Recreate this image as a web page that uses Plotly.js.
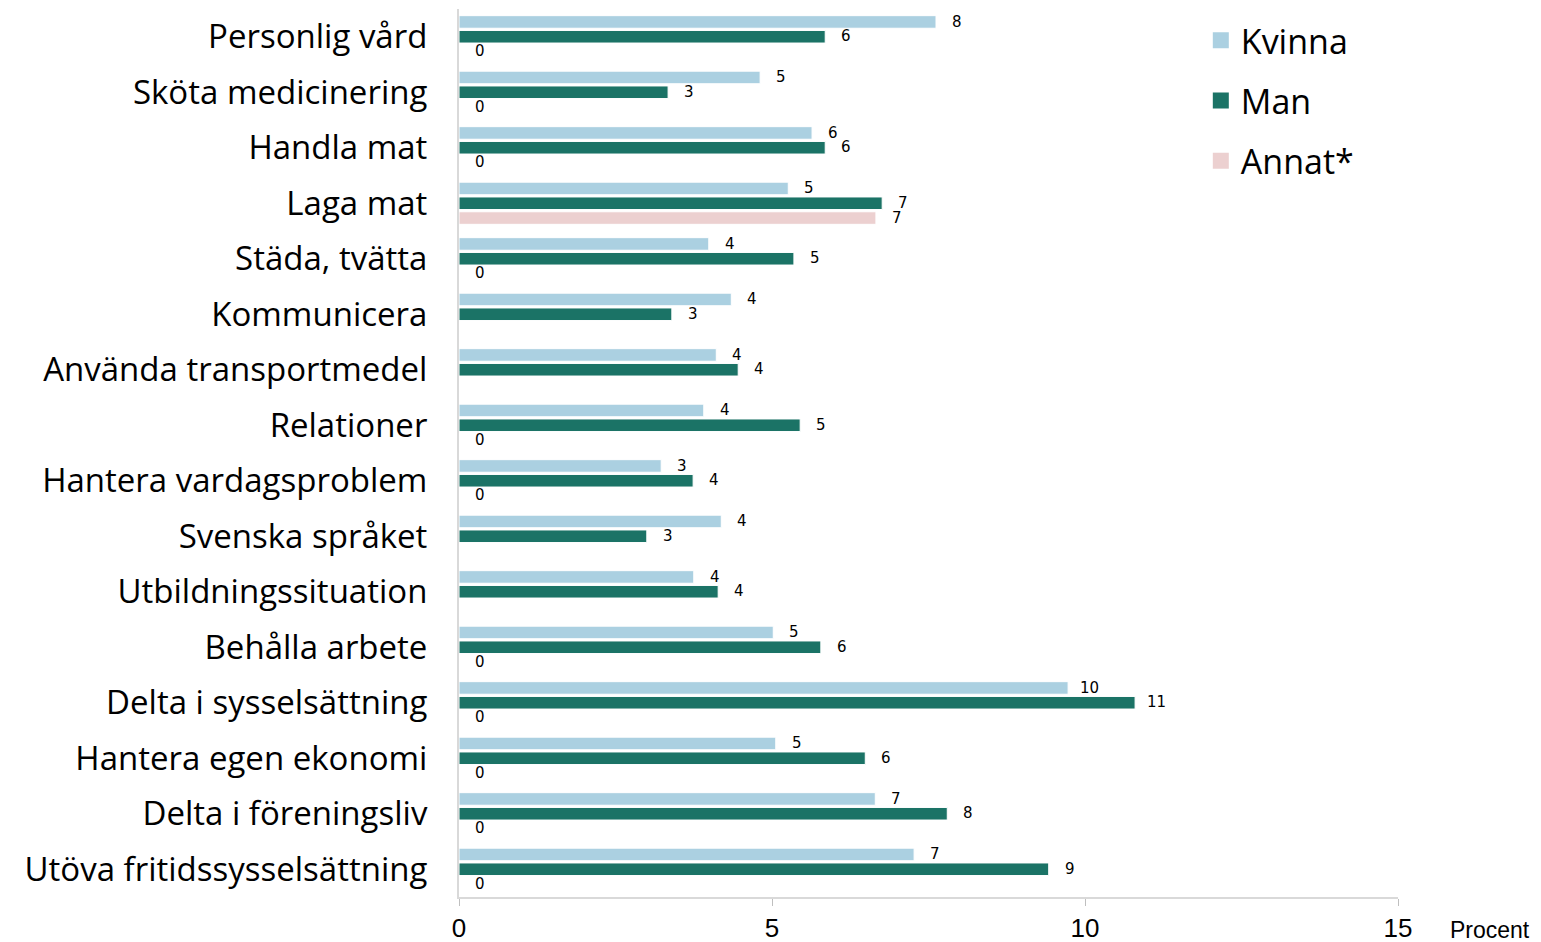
<!DOCTYPE html>
<html>
<head>
<meta charset="utf-8">
<script src="https://cdn.plot.ly/plotly-3.0.1.min.js"></script>
<style>html,body{margin:0;padding:0;background:#fff;}#chart{width:1541px;height:942px;}</style>
</head>
<body>
<div id="chart"></div>
<script>
const categories = [
  "Personlig vård", "Sköta medicinering", "Handla mat", "Laga mat", "Städa, tvätta",
  "Kommunicera", "Använda transportmedel", "Relationer", "Hantera vardagsproblem",
  "Svenska språket", "Utbildningssituation", "Behålla arbete", "Delta i sysselsättning",
  "Hantera egen ekonomi", "Delta i föreningsliv", "Utöva fritidssysselsättning"
];
const kvinna = [7.62, 4.81, 5.64, 5.26, 3.99, 4.35, 4.11, 3.91, 3.23, 4.19, 3.75, 5.02, 9.73, 5.06, 6.65, 7.27];
const man    = [5.85, 3.34, 5.85, 6.76, 5.35, 3.40, 4.46, 5.45, 3.74, 3.00, 4.14, 5.78, 10.80, 6.49, 7.80, 9.42];
const annat  = [0, 0, 0, 6.66, 0, null, null, 0, 0, null, null, 0, 0, 0, 0, 0];
const seriesNames = ["Kvinna", "Man", "Annat*"];
const xTicks = [0, 5, 10, 15];

const colors = ["#abd0e1", "#1b7366", "#ecd0d0"];
const allSeries = [kvinna, man, annat];
const yShifts = [14.5, 0, -14.8];

const traces = allSeries.map((vals, i) => ({
  type: "bar",
  orientation: "h",
  name: seriesNames[i],
  x: vals,
  y: categories,
  marker: { color: colors[i], line: { color: "#ffffff", width: 1 } },
  showlegend: false,
  hoverinfo: "x+y+name"
}));

// legend-only entries with larger square swatches
seriesNames.forEach((nm, i) => {
  traces.push({
    type: "scatter", mode: "markers", name: nm,
    x: [null], y: [categories[0]],
    marker: { symbol: "square", size: 18, color: colors[i] },
    legendgroup: "g" + i, showlegend: true, hoverinfo: "skip"
  });
});

const annotations = [];
allSeries.forEach((vals, i) => {
  vals.forEach((v, j) => {
    if (v === null) return;
    annotations.push({
      x: v, y: categories[j], xref: "x", yref: "y",
      text: String(Math.round(v)),
      showarrow: false, xanchor: "center", yanchor: "middle",
      xshift: 21, yshift: yShifts[i] + 0.5,
      font: { family: "DejaVu Sans, sans-serif", size: 15, color: "#000" }
    });
  });
});
annotations.push({
  x: 1.0, y: 0, xref: "paper", yref: "paper",
  text: "Procent", showarrow: false, xanchor: "left", yanchor: "top",
  xshift: 50, yshift: -18,
  font: { family: "Liberation Sans Narrow, Liberation Sans, sans-serif", size: 23, color: "#000" }
});

const layout = {
  width: 1541, height: 942,
  margin: { l: 459, r: 143, t: 9, b: 45 },
  paper_bgcolor: "#fff", plot_bgcolor: "#fff",
  barmode: "group",
  bargap: 0.2,
  bargroupgap: 0.15,
  showlegend: true,
  legend: {
    x: 0.79, y: 0.997, xanchor: "left", yanchor: "top",
    font: { family: "Open Sans, sans-serif", size: 34, color: "#000" },
    tracegroupgap: 13, traceorder: "grouped",
    itemwidth: 30,
    bgcolor: "rgba(0,0,0,0)"
  },
  xaxis: {
    range: [0, 15], tickvals: xTicks, ticktext: xTicks.map(String),
    showgrid: false, zeroline: false,
    showline: true, linecolor: "#d9d9d9", linewidth: 2,
    ticks: "outside", ticklen: 7, tickcolor: "#bfbfbf", tickwidth: 1,
    tickfont: { family: "Liberation Sans Narrow, Liberation Sans, sans-serif", size: 26, color: "#000" },
    fixedrange: true
  },
  yaxis: {
    type: "category", range: [categories.length - 0.5, -0.5],
    showgrid: false, zeroline: false,
    showline: true, linecolor: "#d9d9d9", linewidth: 2,
    ticks: "", ticklabelstandoff: 23,
    tickfont: { family: "Open Sans, sans-serif", size: 33, color: "#000" },
    fixedrange: true
  },
  annotations: annotations
};

Plotly.newPlot("chart", traces, layout, { displayModeBar: false, staticPlot: true });
</script>
</body>
</html>
